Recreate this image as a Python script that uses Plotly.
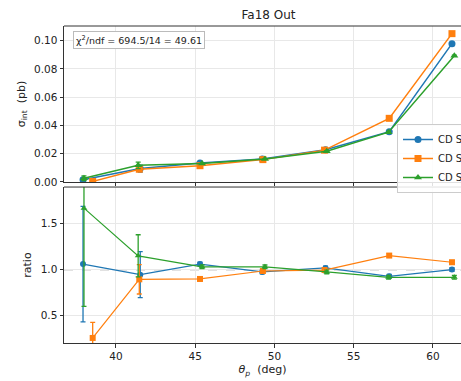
import plotly.graph_objects as go

# ---- data ----
theta_s1 = [37.92, 41.53, 45.30, 49.23, 53.22, 57.24, 61.20]
theta_s2 = [38.53, 41.47, 45.30, 49.27, 53.16, 57.24, 61.20]
theta_s3 = [37.98, 41.40, 45.43, 49.40, 53.30, 57.20, 61.35]

sigma_s1 = [0.0016, 0.0095, 0.0134, 0.0163, 0.0228, 0.0356, 0.0978]
sigma_s2 = [0.0004, 0.0090, 0.0115, 0.0158, 0.0225, 0.0450, 0.1049]
sigma_s3 = [0.0026, 0.0118, 0.0131, 0.0163, 0.0218, 0.0352, 0.0893]

sigma_err_s1 = [0.0010, 0.0025, 0.0003, 0.0003, 0.0003, 0.0004, 0.0005]
sigma_err_s2 = [0.0003, 0.0016, 0.0003, 0.0003, 0.0003, 0.0004, 0.0005]
sigma_err_s3 = [0.0017, 0.0023, 0.0003, 0.0003, 0.0003, 0.0004, 0.0005]

ratio_s1 = [1.06, 0.945, 1.06, 0.975, 1.018, 0.927, 1.00]
ratio_s2 = [0.255, 0.894, 0.898, 0.985, 0.995, 1.153, 1.08]
ratio_s3 = [1.67, 1.15, 1.03, 1.03, 0.975, 0.916, 0.916]

ratio_err_s1 = [0.63, 0.25, 0.02, 0.02, 0.02, 0.02, 0.02]
ratio_err_s2 = [0.17, 0.16, 0.02, 0.02, 0.02, 0.02, 0.02]
ratio_err_s3 = [1.07, 0.23, 0.02, 0.02, 0.02, 0.02, 0.02]

names = ["CD S1", "CD S2", "CD S3"]
colors = ["#1f77b4", "#ff7f0e", "#2ca02c"]
symbols = ["circle", "square", "triangle-up"]

chi2_text = "χ<sup>2</sup>/ndf = 694.5/14 = 49.61"

thetas = [theta_s1, theta_s2, theta_s3]
sigmas = [sigma_s1, sigma_s2, sigma_s3]
sig_errs = [sigma_err_s1, sigma_err_s2, sigma_err_s3]
ratios = [ratio_s1, ratio_s2, ratio_s3]
rat_errs = [ratio_err_s1, ratio_err_s2, ratio_err_s3]

fig = go.Figure()
for i in range(3):
    fig.add_trace(go.Scatter(
        x=thetas[i], y=sigmas[i], name=names[i], mode="lines+markers",
        line=dict(color=colors[i], width=1.5),
        marker=dict(symbol=symbols[i], size=7, color=colors[i]),
        error_y=dict(type="data", array=sig_errs[i], color=colors[i], thickness=1.2, width=2.5),
        xaxis="x", yaxis="y", legendgroup=names[i]))
for i in range(3):
    fig.add_trace(go.Scatter(
        x=thetas[i], y=ratios[i], name=names[i], mode="lines+markers", showlegend=False,
        line=dict(color=colors[i], width=1.2),
        marker=dict(symbol=symbols[i], size=6, color=colors[i]),
        error_y=dict(type="data", array=rat_errs[i], color=colors[i], thickness=1.3, width=2.5),
        xaxis="x2", yaxis="y2", legendgroup=names[i]))

font_fam = "DejaVu Sans, sans-serif"
axis_common = dict(showgrid=True, gridcolor="#e8e8e8", gridwidth=0.8, zeroline=False,
                   showline=True, linecolor="#333333", linewidth=1,
                   ticks="outside", ticklen=3.5, tickcolor="#333333",
                   tickfont=dict(size=10.5, color="#222222", family=font_fam))

x_range = [36.72, 61.77]
fig.update_layout(
    width=461, height=381,
    margin=dict(l=64, r=0, t=26, b=38, autoexpand=False),
    paper_bgcolor="white", plot_bgcolor="white",
    font=dict(family=font_fam, color="#222222"),
    title=dict(text="Fa18 Out", x=268.5 / 461, xanchor="center",
               y=1 - 15 / 381, yanchor="middle", font=dict(size=12)),
    xaxis=dict(axis_common, domain=[0, 1], range=x_range, anchor="y", showticklabels=False,
               tickvals=[40, 45, 50, 55, 60]),
    yaxis=dict(axis_common, domain=[0.508, 1], range=[0, 0.1103], anchor="x",
               tickvals=[0, 0.02, 0.04, 0.06, 0.08, 0.10], tickformat=".2f",
               title=dict(text="σ<sub>int</sub>  (pb)", font=dict(size=11), standoff=6)),
    xaxis2=dict(axis_common, domain=[0, 1], range=x_range, anchor="y2", matches="x",
                tickvals=[40, 45, 50, 55, 60],
                title=dict(text="<i>θ</i><sub><i>p</i></sub>  (deg)", font=dict(size=11), standoff=4)),
    yaxis2=dict(axis_common, domain=[0, 0.492], range=[0.2, 1.9], anchor="x2",
                tickvals=[0.5, 1.0, 1.5], tickformat=".1f",
                title=dict(text="ratio", font=dict(size=11), standoff=6)),
    legend=dict(x=(397 - 64) / 397, y=(343 - 124) / 317, xanchor="left", yanchor="top",
                bgcolor="rgba(255,255,255,0.85)", bordercolor="#cccccc", borderwidth=1,
                font=dict(size=10), tracegroupgap=0, itemwidth=30),
    showlegend=True,
)

# top borders of each panel
fig.add_shape(type="line", xref="paper", yref="paper", x0=0, x1=1, y0=1, y1=1,
              line=dict(color="#333333", width=1))
fig.add_shape(type="line", xref="paper", yref="paper", x0=0, x1=1, y0=0.492, y1=0.492,
              line=dict(color="#333333", width=1))
# reference line at ratio 1
fig.add_shape(type="line", xref="x2 domain", yref="y2", x0=0, x1=1, y0=1, y1=1,
              line=dict(color="#888888", width=1.3, dash="dash"), layer="below")

fig.add_annotation(text=chi2_text, xref="paper", yref="paper",
                   x=(73 - 64) / 397, y=(343 - 31) / 317, xanchor="left", yanchor="top",
                   showarrow=False, font=dict(size=9.5, color="#222222"),
                   bgcolor="white", bordercolor="#bbbbbb", borderwidth=1, borderpad=2)

fig.write_html("out.html", config={"displayModeBar": False},
               post_script="document.body.style.margin='0px';document.body.style.overflow='hidden';")
